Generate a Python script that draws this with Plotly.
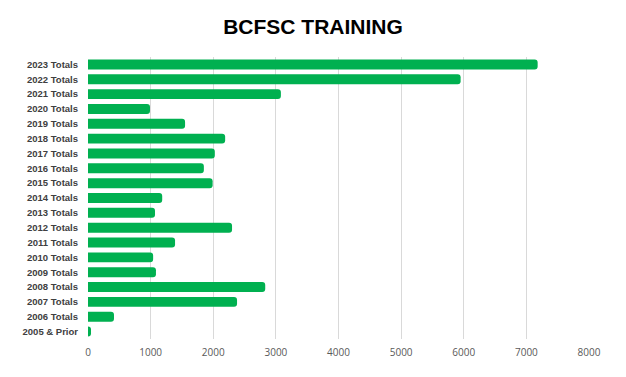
import plotly.graph_objects as go

categories = ["2023 Totals", "2022 Totals", "2021 Totals", "2020 Totals", "2019 Totals",
              "2018 Totals", "2017 Totals", "2016 Totals", "2015 Totals", "2014 Totals",
              "2013 Totals", "2012 Totals", "2011 Totals", "2010 Totals", "2009 Totals",
              "2008 Totals", "2007 Totals", "2006 Totals", "2005 & Prior"]
values = [7180, 5950, 3080, 990, 1550,
          2190, 2025, 1850, 1990, 1185,
          1070, 2300, 1390, 1040, 1085,
          2830, 2380, 415, 48]
x_ticks = [0, 1000, 2000, 3000, 4000, 5000, 6000, 7000, 8000]

fig = go.Figure(go.Bar(
    x=values, y=categories, orientation="h",
    marker=dict(color="#00B050", cornerradius=3, line=dict(width=0)),
))

fig.update_layout(
    width=626, height=377,
    margin=dict(l=88, r=37, t=57, b=38),
    paper_bgcolor="white", plot_bgcolor="white",
    bargap=0.33,
    showlegend=False,
    title=dict(text="<b>BCFSC TRAINING</b>", x=0.5, xanchor="center",
               y=1 - 27 / 377, yanchor="middle",
               font=dict(family="Liberation Sans, Arial", size=21, color="black")),
    xaxis=dict(range=[0, 8000], tickvals=x_ticks, showgrid=True, gridcolor="#D9D9D9",
               gridwidth=1, zeroline=False, showline=False, ticks="",
               ticklabelstandoff=6, automargin=False,
               tickfont=dict(family="Open Sans, Liberation Sans", size=10, color="#595959")),
    yaxis=dict(categoryorder="array", categoryarray=categories[::-1],
               showgrid=False, zeroline=False, showline=False, ticks="",
               ticklabelstandoff=9, automargin=False,
               tickfont=dict(family="Liberation Sans", size=9.5, color="#404040",
                             weight="bold")),
)

fig.write_html("out.html", post_script="document.body.style.margin='0';",
               config={"displayModeBar": False})
